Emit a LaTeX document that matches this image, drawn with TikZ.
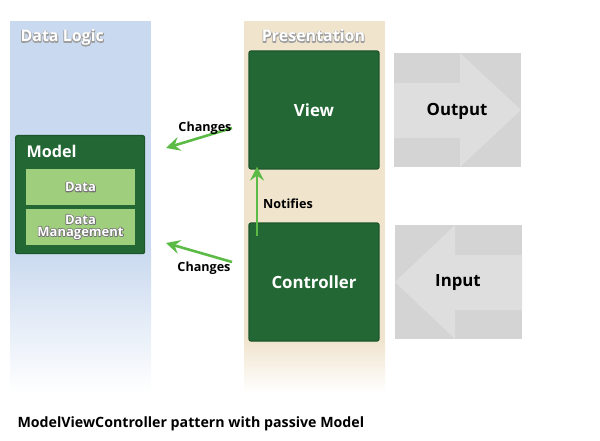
\documentclass[tikz,border=0pt]{standalone}
\usepackage{fontspec}
\setmainfont{Open Sans}
\usetikzlibrary{
  positioning,
  arrows.meta
}

\definecolor{logicblue}{HTML}{C9D9EF}
\definecolor{presbeige}{HTML}{F0E4CD}
\definecolor{mvcgreen}{HTML}{236734}
\definecolor{mvcborder}{HTML}{1C552A}
\definecolor{datagreen}{HTML}{9FCF7C}
\definecolor{iogray}{HTML}{D5D4D5}
\definecolor{iolight}{HTML}{DEDEDE}
\definecolor{arrowgreen}{HTML}{5CBB46}

% white letters on a grey halo
\newcommand{\halotext}[2]{{\rlap{\special{pdf:literal direct 1 Tr 1.6 w 1 J 1 j #1 G}#2\special{pdf:literal direct 0 Tr}}#2}}

\begin{document}
\begin{tikzpicture}[
    x=1pt, y=-1pt,
    every node/.style={font=\bfseries},
    panel/.style={
        draw=none,
        fill=#1
    },
    title/.style={
        anchor=base west,
        text=white,
        font=\bfseries\fontsize{16}{18}\selectfont
    },
    box/.style={
        rectangle,
        rounded corners=2pt,
        draw=mvcborder,
        line width=1.2pt,
        fill=mvcgreen,
        text=white,
        align=center,
        minimum width=130pt,
        minimum height=118pt,
        font=\bfseries\fontsize{16.8}{18}\selectfont
    },
    databox/.style={
        rectangle,
        fill=datagreen,
        text=white,
        align=center,
        minimum width=109pt,
        minimum height=36pt,
        inner sep=1pt,
        font=\bfseries\fontsize{13}{15}\selectfont
    },
    iolabel/.style={
        text=black,
        font=\bfseries\fontsize{16.8}{18}\selectfont
    },
    arrowlabel/.style={
        text=black,
        font=\bfseries\fontsize{12.6}{14}\selectfont
    },
    arrow/.style={
        draw=arrowgreen,
        line width=2.6pt,
        -{Stealth[length=14pt,width=14pt,inset=5pt]}
    }
]

% frame
\useasboundingbox (0,0) rectangle (600,441);

% panels
\fill[panel=logicblue] (10,21) rectangle (151,250);
\shade[top color=logicblue, bottom color=white] (10,249.5) rectangle (151,392);
\fill[panel=presbeige] (244,21) rectangle (385,340);
\shade[top color=presbeige, bottom color=white] (244,339.5) rectangle (385,392);

\node[title] (logictitle) at (17,42) {\halotext{0.62}{Data Logic}};
\node[title, anchor=base] (prestitle) at (313.5,42) {\halotext{0.62}{Presentation}};

% model
\node[box, anchor=north west, minimum width=129pt] (model) at (15,135) {};
\node[title, font=\bfseries\fontsize{16.2}{18}\selectfont] (modeltitle) at (23,157.5) {Model};
\node[databox] (data) at (80.5,187) {\halotext{0.45}{Data}};
\node[databox] (datamgmt) at (80.5,227) {\halotext{0.45}{Data}\\[-3pt]\halotext{0.45}{Management}};

% view and controller
\node[box] (view) at (314,110) {View};
\node[box] (controller) at (314,282) {Controller};

% output
\fill[iogray] (394,53) rectangle (521,167);
\fill[iolight] (394,83) -- (460,83) -- (460,53) -- (521,110) -- (460,167) -- (460,138) -- (394,138) -- cycle;
\node[iolabel] (output) at (457,111) {Output};

% input
\fill[iogray] (395,225) rectangle (522,339);
\fill[iolight] (522,255) -- (455,255) -- (455,225) -- (395,282) -- (455,339) -- (455,310) -- (522,310) -- cycle;
\node[iolabel] (input) at (458,283) {Input};

% connectors
\coordinate (viewout) at (232,128);
\coordinate (modelin1) at (166,148);
\coordinate (ctrlout) at (232,262);
\coordinate (modelin2) at (166,243);
\coordinate (ctrlup) at (257,236);

\draw[arrow] (viewout) -- (modelin1);
\draw[arrow] (ctrlout) -- (modelin2);
\draw[arrow] (ctrlup) -- (ctrlup |- view.south) -- ++(0,-3);

\node[arrowlabel] (changes1) at (205,128) {Changes};
\node[arrowlabel] (changes2) at (204,268) {Changes};
\node[arrowlabel] (notifies) at (288,204) {Notifies};

% caption
\node[anchor=base west, font=\bfseries\fontsize{14.2}{16}\selectfont] (caption) at (14,427) {ModelViewController pattern with passive Model};

\end{tikzpicture}
\end{document}
